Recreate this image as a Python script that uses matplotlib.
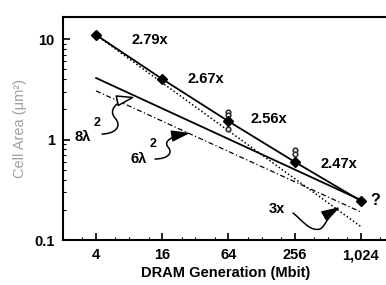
import matplotlib
matplotlib.use("Agg")
import matplotlib.pyplot as plt
import matplotlib.ticker as mticker
from matplotlib.path import Path
from matplotlib.patches import FancyArrowPatch

plt.rcParams['font.family'] = ['Liberation Sans', 'DejaVu Sans']

# DRAM generations (Mbit)
gen = [4, 16, 64, 256, 1024]
# actual cell area (um^2), diamonds
cell = [11.0, 4.0, 1.52, 0.60, 0.245]
# per-generation shrink labels
ratio_labels = ["2.79x", "2.67x", "2.56x", "2.47x"]

# 3x per generation trend
trend3_x = [4, 1024]
trend3_y = [11.0, 0.136]
# 8 lambda^2 and 6 lambda^2 lines
l8_x = [4, 1024]
l8_y = [4.1, 0.25]
l6_x = [4, 1024]
l6_y = [3.05, 0.19]

# small extra points at 64 and 256
extra_x = [64, 64, 64, 256, 256]
extra_y = [1.90, 1.76, 1.26, 0.78, 0.72]

W, H = 386, 285
fig = plt.figure(figsize=(W/100, H/100), dpi=100)
ax = fig.add_axes([63/W, 45/H, 326/W, 223/H])

ax.plot(gen, cell, 'k-', lw=1.3, marker='D', ms=5, mfc='black', zorder=3)
ax.plot(trend3_x, trend3_y, color='black', ls=(0, (1, 1.5)), lw=1.1)
ax.plot(l8_x, l8_y, 'k-', lw=1.3)
ax.plot(l6_x, l6_y, color='black', ls=(0, (4, 2, 1, 2)), lw=0.9)
ax.plot(extra_x, extra_y, ls='none', marker='o', ms=3.3, mfc='white', mec='#333333', mew=1.2)

ax.set_xscale('log')
ax.set_yscale('log')
ax.set_xlim(2, 1845)
ax.set_ylim(0.1, 16.6)

ax.set_xticks(gen)
ax.set_xticklabels(["4", "16", "64", "256", "1,024"])
ax.xaxis.set_minor_locator(mticker.FixedLocator([3, 6, 8, 12, 24, 32, 48, 96, 128, 192, 384, 512, 768, 1536]))
ax.xaxis.set_minor_formatter(mticker.NullFormatter())
ax.set_yticks([0.1, 1, 10])
ax.set_yticklabels(["0.1", "1", "10"])
ax.yaxis.set_minor_locator(mticker.LogLocator(base=10, subs=range(2, 10)))
ax.yaxis.set_minor_formatter(mticker.NullFormatter())

ax.tick_params(which='major', direction='in', length=5, width=1.2, labelsize=10.5, pad=6)
ax.tick_params(which='minor', direction='in', length=2.5, width=0.8)
for lab in ax.get_xticklabels() + ax.get_yticklabels():
    lab.set_fontweight('bold')
for s in ax.spines.values():
    s.set_linewidth(1.5)

ax.set_xlabel("DRAM Generation (Mbit)", fontsize=10.5, fontweight='bold', labelpad=3)
ax.set_ylabel("Cell Area (\u03bcm\u00b2)", fontsize=10.5, color='#a0a0a0', labelpad=5)

# ratio labels
kw = dict(fontsize=10.5, fontweight='bold', ha='center', va='center')
ax.text(12.4, 9.8, ratio_labels[0], **kw)
ax.text(40, 4.05, ratio_labels[1], **kw)
ax.text(148, 1.62, ratio_labels[2], **kw)
ax.text(645, 0.575, ratio_labels[3], **kw)
ax.text(1373, 0.25, "?", fontsize=11.5, fontweight='bold', ha='center', va='center')
ax.text(175, 0.205, "3x", **kw)

ax.text(3.04, 1.07, "8\u03bb", **kw)
ax.text(4.08, 1.45, "2", fontsize=9, fontweight='bold', ha='center', va='center')
ax.text(9.7, 0.646, "6\u03bb", **kw)
ax.text(13.2, 0.91, "2", fontsize=9, fontweight='bold', ha='center', va='center')


def curved_arrow(pts, fc='black'):
    # pts in reference pixel coords: start, then cubic bezier triplets, last is tip
    verts = [(x/W, 1 - y/H) for x, y in pts]
    codes = [Path.MOVETO] + [Path.CURVE4] * (len(verts) - 1)
    p = FancyArrowPatch(path=Path(verts, codes), arrowstyle='-|>,head_length=0.8,head_width=0.25',
                        mutation_scale=14, lw=1.1, color='black', transform=fig.transFigure)
    p.set_facecolor(fc)
    fig.add_artist(p)


curved_arrow([(102, 134), (114, 134), (123, 127), (115, 118),
              (108, 110), (116, 101), (135, 97)], fc='white')
curved_arrow([(155, 159), (166, 159), (174, 154), (168, 147),
              (163, 141), (172, 136), (190, 133)])
curved_arrow([(293, 213), (302, 220), (310, 232), (320, 229),
              (326, 226), (328, 214), (340, 207)])

fig.savefig("out.png", dpi=100)
